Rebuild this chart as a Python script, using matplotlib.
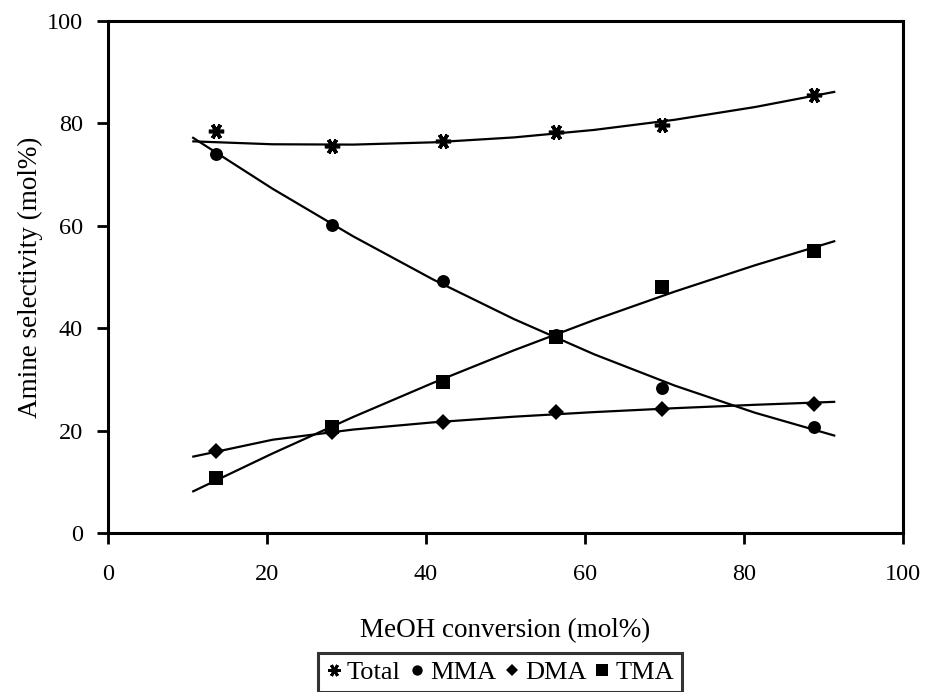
import numpy as np
import matplotlib
matplotlib.use("Agg")
import matplotlib.pyplot as plt
from matplotlib.lines import Line2D

# ---- data ----
conversion = [13.6, 28.2, 42.1, 56.4, 69.7, 88.8]
total = [78.4, 75.6, 76.6, 78.3, 79.7, 85.5]
mma = [74.0, 60.2, 49.1, 38.6, 28.3, 20.6]
dma = [16.0, 19.8, 21.7, 23.6, 24.2, 25.2]
tma = [10.7, 20.6, 29.4, 38.3, 48.0, 55.1]
series_names = ["Total", "MMA", "DMA", "TMA"]
trend_range = (10.6, 91.5)
x_ticks = [0, 20, 40, 60, 80, 100]
y_ticks = [0, 20, 40, 60, 80, 100]

plt.rcParams['font.family'] = ['Liberation Serif', 'DejaVu Serif']

fig = plt.figure(figsize=(9.26, 6.92), dpi=100)
ax = fig.add_axes([0.1166, 0.2298, 0.8584, 0.7402])

star = (6, 2, 90)
markers = [star, 'o', 'D', 's']
msizes = [11, 9.3, 7.8, 10]
series = [total, mma, dma, tma]

xs = np.linspace(trend_range[0], trend_range[1], 9)


def trend(name, x, y):
    x = np.asarray(x, float)
    y = np.asarray(y, float)
    if name == "Total":
        c = np.polyfit(x[1:], y[1:], 2)
        return np.polyval(c, xs)
    if name == "DMA":
        c = np.polyfit(np.log(x), y, 1)
        return np.polyval(c, np.log(xs))
    c = np.polyfit(x, y, 2)
    return np.polyval(c, xs)


handles = []
for name, y, m, ms in zip(series_names, series, markers, msizes):
    ax.plot(xs, trend(name, conversion, y), color='black', lw=1.6,
            solid_capstyle='butt')
    mew = 2.6 if m == star else 0
    ax.plot(conversion, y, linestyle='none', marker=m, markersize=ms,
            color='black', markeredgewidth=mew, markeredgecolor='black')
    handles.append(Line2D([], [], linestyle='none', marker=m, color='black',
                          markersize=ms * 0.8, markeredgewidth=mew * 0.8))

ax.set_xlim(0, 100)
ax.set_ylim(0, 100)
ax.set_xticks(x_ticks)
ax.set_yticks(y_ticks)
for s in ax.spines.values():
    s.set_linewidth(2.2)
ax.tick_params(direction='out', length=8, width=2, labelsize=17.5, pad=10)
ax.tick_params(axis='x', pad=14)
ax.set_xlabel("MeOH conversion (mol%)", fontsize=19.5, labelpad=24)
ax.set_ylabel("Amine selectivity (mol%)", fontsize=19.5, labelpad=3)

leg = fig.legend(handles, series_names, loc='lower center',
                 bbox_to_anchor=(0.54, 0.0), ncol=4, fontsize=19,
                 frameon=True, fancybox=False, handlelength=0.6,
                 handletextpad=0.2, columnspacing=0.3, borderpad=0.3,
                 borderaxespad=0)
leg.get_frame().set_edgecolor('black')
leg.get_frame().set_linewidth(2.2)

fig.savefig("out.png", dpi=100)
